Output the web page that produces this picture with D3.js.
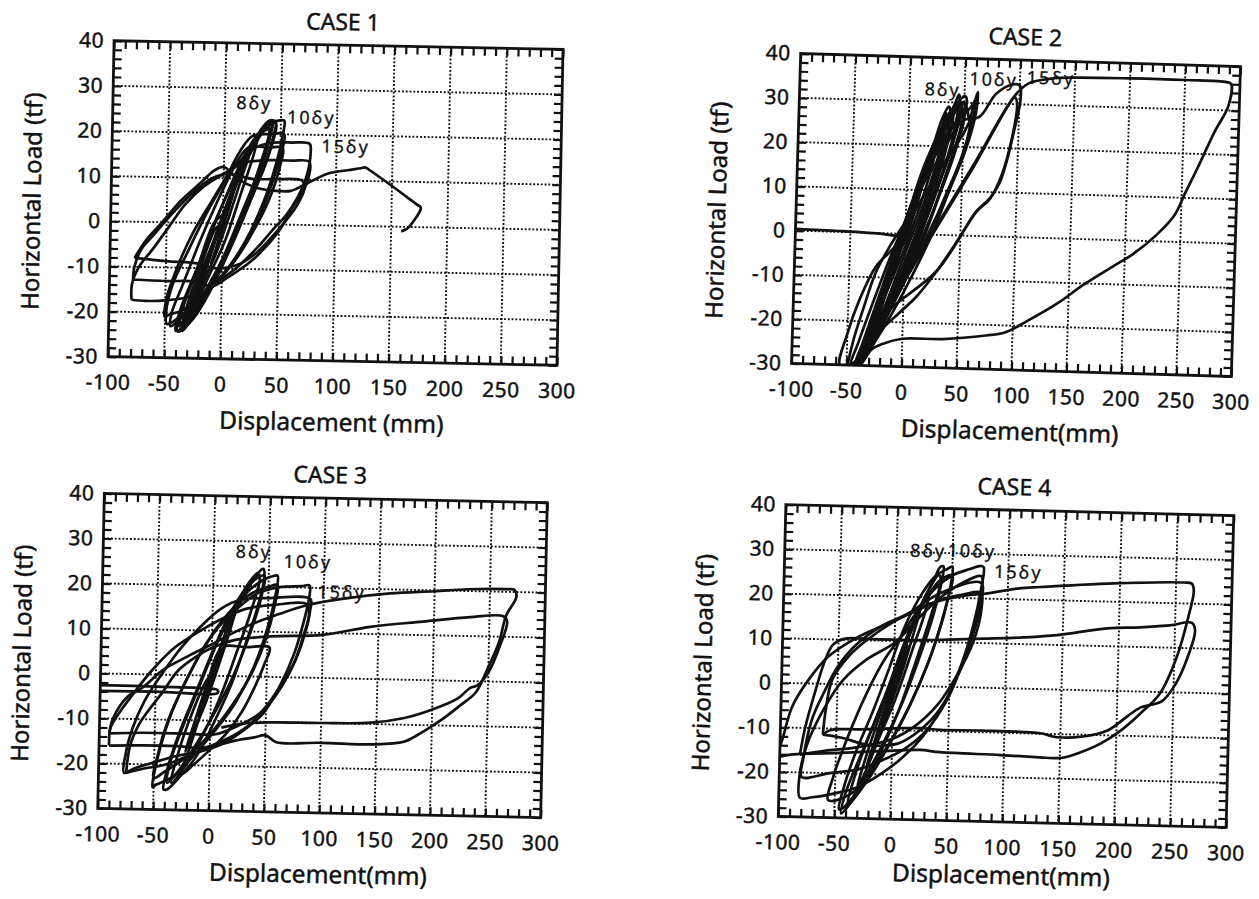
<!DOCTYPE html>
<html>
<head>
<meta charset="utf-8">
<script src="https://cdn.jsdelivr.net/npm/d3@7"></script>
<style>
  body { margin: 0; background: #fff; }
  text { font-family: "Noto Sans", "DejaVu Sans", sans-serif; fill: #111; stroke: #111; stroke-width: 0.45px; }
</style>
</head>
<body>
<svg id="chart" width="1259" height="899"></svg>
<script>
// ---- tick labels ----
const xTickLabels = [-100, -50, 0, 50, 100, 150, 200, 250, 300];
const yTickLabels = [-30, -20, -10, 0, 10, 20, 30, 40];

// ---- hysteresis cycles, [displacement mm, load tf] ----
const case1Cycles = [
  [[0,0],[5,4],[10,8],[7,5],[0,-1],[-6,-6],[-10,-9],[-5,-5],[0,0]],
  [[0,0],[10,8],[18,13],[22,15],[17,11],[6,2],[-6,-7],[-16,-13],[-22,-17],[-15,-11],[-4,-2],[2,3]],
  [[2,3],[14,11],[25,17],[30,20],[27,16],[16,7],[2,-4],[-12,-12],[-24,-19],[-30,-22],[-24,-17],[-12,-7],[0,2]],
  [[0,0],[10,8],[20,14],[30,19],[38,22],[40,21],[32,13],[20,4],[6,-6],[-10,-15],[-24,-21],[-32,-23],[-26,-17],[-14,-8],[0,0]],
  [[2,2],[14,11],[26,18],[36,22],[42,23],[40,19],[30,10],[16,0],[0,-9],[-16,-17],[-28,-22],[-34,-24],[-28,-18],[-14,-8],[2,2]],
  [[0,2],[10,9],[20,15],[32,20],[44,23],[46,22],[38,14],[24,5],[8,-5],[-10,-14],[-26,-21],[-40,-24],[-36,-19],[-22,-10],[-8,0],[0,2]],
  [[0,0],[12,9],[24,16],[36,21],[45,22.5],[42,18],[30,9],[14,-1],[-4,-11],[-20,-18],[-34,-23],[-30,-18],[-18,-9],[-6,-1],[0,0]],
  [[0,2],[12,10],[24,17],[34,21.5],[40,23],[43,23],[40,19],[30,11],[16,2],[0,-8],[-16,-16],[-30,-22],[-36,-24],[-39,-24],[-36,-20],[-25,-12],[-10,-2],[4,7]],
  [[4,7],[16,14],[28,19],[38,21],[41,21],[37,16],[26,8],[10,-3],[-8,-12],[-24,-19],[-34,-22],[-37,-23],[-33,-18],[-20,-9],[-6,1],[8,9]],
  [[8,9],[20,16],[30,20],[42,22.5],[48,23],[53,23],[52,20],[46,13],[36,5],[20,-4],[2,-11],[-18,-16],[-35,-19.5],[-47,-20.5],[-50,-21],[-49,-17],[-40,-10],[-26,-2],[-10,5],[4,11]],
  [[4,11],[14,16],[25,19.5],[40,20],[53,20],[51,16],[43,9],[30,0],[12,-8],[-8,-14],[-28,-19],[-48,-22.5],[-49,-20],[-44,-14],[-30,-6],[-15,2],[0,9]],
  [[0,9],[12,14],[22,17],[40,17],[52,17],[50,13],[40,5],[24,-3],[5,-10],[-15,-16],[-35,-21],[-45,-23],[-44,-20],[-35,-14],[-20,-4],[-5,5],[8,12]],
  [[8,12],[25,16.5],[40,18],[60,18.2],[76,18],[77,16],[74,11],[66,6],[56,2],[47,-0.5],[30,-5.5],[12,-10],[-4,-13],[-12,-15],[-30,-16.5],[-50,-17.3],[-68,-17.5],[-80,-17.3]],
  [[-80,-17.3],[-80,-14],[-74,-10],[-62,-6],[-48,-1],[-34,4],[-18,8],[0,11],[18,13.5],[41,14.2],[60,14.2],[76,14],[76,11],[70,7],[62,4],[50,-1.5],[27,-8],[5,-12],[-9,-14],[-23,-13],[-50,-13],[-79,-12.8]],
  [[-79,-12.8],[-78,-10],[-72,-6],[-62,-3],[-45,2],[-30,6],[-10,10],[5,11],[25,10],[45,10],[70,9.8],[72,8],[65,4],[50,-1],[32,-6],[15,-9],[-5,-10],[-21,-9],[-50,-8.6],[-78,-8]],
  [[-78,-8],[-68,-4],[-54,0],[-38,4.8],[-20,9],[-9,11.6],[0,12.5],[12,10],[30,8],[50,7.4],[60,7.5],[72,8.9],[93,11.5],[110,12.3],[122,12.8],[126,13],[130,12.4],[150,9],[172,5.1],[176,4.4],[175,3.4],[165,-0.2],[162,-0.7],[159,-1]]
];

const case2Cycles = [
  [[-100,0.4],[-60,0.2],[-20,-0.2],[-5,-0.6]],
  [[-5,-0.6],[3,3],[10,8],[14,11],[10,7],[2,0],[-6,-5],[-12,-9],[-7,-5],[0,0]],
  [[0,0],[10,8],[20,15],[26,20],[22,15],[12,6],[0,-3],[-12,-11],[-22,-17],[-26,-20],[-18,-13],[-6,-3],[2,3]],
  [[0,0],[6,6],[14,13],[22,19],[30,24],[38,28],[40,26],[32,18],[20,8],[8,-1],[-4,-9],[-16,-17],[-26,-23],[-20,-17],[-10,-9],[0,0]],
  [[0,0],[8,7],[18,15],[28,21],[38,26],[44,29],[42,24],[32,14],[18,4],[4,-6],[-10,-15],[-22,-22],[-30,-26],[-24,-19],[-12,-10],[0,0]],
  [[-2,-2],[6,5],[14,12],[24,19],[34,25],[40,27],[36,21],[26,11],[12,1],[0,-8],[-14,-17],[-24,-23],[-18,-15],[-8,-7],[-2,-2]],
  [[2,2],[12,11],[22,18],[32,24],[42,29],[50,30],[48,25],[38,16],[24,5],[10,-4],[-4,-12],[-18,-20],[-28,-25],[-20,-16],[-8,-6],[2,2]],
  [[0,0],[8,8],[16,15],[24,21],[30,26],[36,29],[38,27],[30,18],[20,9],[8,-1],[-6,-11],[-20,-20],[-32,-27],[-38,-30],[-30,-22],[-18,-12],[-6,-3],[0,0]],
  [[0,0],[10,9],[20,17],[30,23],[40,27],[48,30],[46,26],[36,17],[22,6],[6,-5],[-10,-15],[-24,-23],[-34,-28],[-28,-21],[-16,-11],[-4,-2],[0,0]],
  [[2,3],[12,11],[22,18],[30,24],[34,27.5],[33,24],[25,15],[12,4],[-2,-6],[-16,-16],[-28,-24],[-36,-28],[-30,-22],[-18,-12],[-5,-1],[5,7]],
  [[5,7],[15,15],[25,21],[35,26],[42,30],[45,31.8],[46,28],[40,20],[30,12],[18,3],[3,-8],[-12,-17],[-26,-25],[-38,-30],[-42,-30],[-36,-25],[-22,-14],[-8,-3],[6,8]],
  [[6,8],[16,16],[28,23],[40,28.5],[50,31.5],[52,31],[50,26],[42,18],[30,9],[15,-2],[0,-11],[-15,-19],[-28,-26],[-36,-29],[-32,-24],[-20,-14],[-6,-3],[8,7]],
  [[8,7],[20,16],[32,22],[44,26],[52,29],[55,26],[58,29],[62,32.5],[61,28],[52,19],[40,11],[24,0],[8,-9],[-10,-18],[-26,-25],[-40,-30],[-46,-30],[-40,-25],[-28,-16],[-14,-6],[0,3]],
  [[0,3],[15,13],[30,20],[45,26],[56,29],[60,30.5],[58,26],[48,17],[34,8],[18,-2],[0,-11],[-18,-20],[-34,-27],[-44,-29.5],[-48,-30],[-45,-25],[-36,-17],[-26,-9],[-14,-3],[-2,2]],
  [[-2,2],[12,10],[28,17],[48.8,25.9],[64,26.9],[79,32.3],[94.5,34.5],[100,34.3],[101,31],[96,24],[90,17],[84,12],[76,8.7],[64,5.6],[48,-1],[30,-8],[12,-14],[-4,-18],[-20,-22],[-34,-27],[-46,-30],[-56,-30],[-50,-22.9],[-40,-15.2],[-26,-7.6],[-9,-2.9],[2,2]],
  [[2,2],[14,8],[28,14],[40,19],[50,23],[56,26],[52,20],[40,11],[24,2],[6,-8],[-8,-15],[-22,-21],[-30,-25],[-22,-21],[-15,-17.6],[20,-2],[60,15.5],[96,31.5],[98,30],[94,22],[86,14],[76,8.5],[64,5.5],[30,-8],[-15,-18],[-30,-25],[-42,-30]],
  [[-42,-30],[-30,-23],[-15,-17],[20,-1.5],[60,16],[96,32],[108,34.8],[128,36],[150,36.4],[200,36.6],[250,36.6],[288,36.4],[292,36],[290,31],[278,25],[264,17],[253,11],[244,6],[228,1.4],[206,-3.3],[191,-5.7],[162,-10.5],[141,-14.5],[112,-19],[93,-21.6],[76,-22.4],[37,-23.5],[0,-23.7],[-18,-25],[-27,-26.2],[-36,-29],[-40,-30]]
];

const case3Cycles = [
  [[-100,-2.6],[-50,-2.7],[0,-2.9],[6,-3.2],[6,-3.8],[-50,-3.8],[-100,-3.9]],
  [[0,0],[6,5],[12,9],[8,5],[0,-1],[-6,-6],[-11,-9],[-5,-4],[0,0]],
  [[0,0],[10,8],[18,14],[22,16],[17,11],[6,2],[-6,-7],[-16,-13],[-22,-17],[-15,-11],[-4,-2],[2,3]],
  [[0,0],[10,8],[20,15],[30,20],[40,23],[42,22],[34,14],[22,5],[8,-5],[-8,-14],[-24,-21],[-34,-24],[-28,-17],[-16,-8],[-4,-1],[0,0]],
  [[2,3],[10,6.5],[30,6.5],[52,6.5],[48,3],[40,-2],[28,-8],[14,-13],[-2,-17],[-15,-20],[-25,-22],[-18,-16],[-6,-6],[4,3]],
  [[4,3],[15,11],[26,17],[35,21],[42,23.5],[45,24],[46,22],[40,15],[30,7],[18,-2],[4,-10],[-12,-18],[-28,-23],[-38,-25.5],[-41,-25.5],[-38,-21],[-28,-13],[-14,-4],[0,5]],
  [[0,5],[14,13],[28,19],[40,22],[46,22.5],[43,17],[32,8],[18,-1],[2,-9],[-14,-16],[-30,-22],[-38,-24],[-35,-19],[-24,-11],[-10,-2],[4,7]],
  [[4,7],[18,14],[30,18.5],[45,21.5],[55,22.5],[58,22.5],[57,19],[50,11],[38,2],[22,-6],[5,-12],[-15,-18],[-32,-22.5],[-48,-24.5],[-51,-25],[-49,-21],[-40,-12],[-28,-4],[-12,4],[2,10]],
  [[2,10],[18,15],[35,18.5],[50,20],[58,20.5],[56,16],[48,8],[35,0],[18,-7],[0,-13],[-20,-18],[-40,-21.5],[-50,-23],[-47,-18],[-38,-10],[-24,-2],[-8,6],[6,11]],
  [[6,11],[22,15],[40,18.5],[60,20],[80,20.3],[87,20.5],[87,18],[82,12],[74,5],[62,-2],[48,-8],[30,-12],[12,-15],[-10,-17],[-30,-18],[-50,-19.5],[-68,-21],[-77,-22],[-76,-18],[-70,-12],[-60,-6],[-45,0],[-28,6],[-10,11],[8,15],[25,17],[50,17.5],[88,17.5],[88,15],[84,10],[76,4],[64,-2],[50,-7],[34,-11],[15,-14],[-5,-16],[-30,-15.8],[-60,-15.8],[-91,-16]],
  [[-91,-16],[-90,-12],[-84,-9.3],[-69,-4],[-53,1.1],[-33,6.2],[-9,10.2],[11,13],[30,15],[55,16],[85,16.3],[87,14],[82,9],[74,3],[60,-3],[45,-8],[25,-11],[5,-13],[-20,-13],[-60,-13],[-91,-13.3]],
  [[-91,-13.3],[-88,-10],[-75,-5],[-62,-3],[-44,1],[-23,4],[0,7],[30,11],[60,14],[86.5,16.2],[120,17.8],[160,19.1],[200,19.8],[230,20.4],[265,20.6],[272,20.5],[274,19],[265,14.7],[259,8.7],[249,2.7],[239,-2.5],[225,-5.5],[211,-8.3],[197,-10.7],[184,-12.7],[175,-13.8],[150,-14.5],[100,-14.4],[60,-14.5],[50,-13],[40,-13.5],[20,-14.5],[0,-16],[-20,-18],[-40,-20],[-60,-21],[-75,-22]],
  [[-75,-22],[-72,-16],[-64,-11],[-56,-8],[-44,-4],[-30,1],[-15,4],[1,6.3],[20,8],[52.6,9],[100,9.6],[142.6,11.6],[190,13],[232.6,14.2],[262,14.6],[266,13.5],[260,8],[250,2],[240,-1],[234,-1.5],[223,-3.9],[199,-6.6],[175,-8.5],[145,-9.7],[100,-10],[55,-10.1],[30,-10.5],[10,-11.5]]
];

const case4Cycles = [
  [[0,0],[6,5],[12,9],[8,5],[0,-1],[-6,-6],[-11,-9],[-5,-4],[0,0]],
  [[0,0],[10,9],[18,15],[22,17],[17,12],[6,2],[-6,-7],[-16,-14],[-22,-18],[-15,-12],[-4,-2],[2,3]],
  [[0,0],[10,9],[20,16],[30,22],[38,25],[40,24],[32,16],[20,6],[6,-5],[-10,-15],[-26,-23],[-38,-27],[-32,-20],[-20,-11],[-6,-2],[0,0]],
  [[2,3],[14,12],[24,18],[30,21],[27,17],[16,8],[2,-3],[-12,-12],[-24,-20],[-30,-23],[-24,-17],[-12,-7],[0,3]],
  [[0,3],[14,13],[26,20],[34,24],[39,26.8],[42,27],[41,24],[34,16],[22,6],[8,-4],[-8,-13],[-24,-21],[-36,-26],[-44,-28],[-46,-28],[-42,-23],[-32,-15],[-18,-6],[-4,4]],
  [[-4,4],[10,14],[24,21],[36,25],[46,26.5],[50,27],[49,23],[42,15],[30,5],[14,-5],[-4,-14],[-20,-21],[-34,-26],[-44,-29],[-40,-24],[-28,-16],[-14,-7],[0,3]],
  [[0,3],[14,13],[28,20],[40,24],[50,25],[47,20],[38,11],[24,1],[6,-9],[-12,-17],[-28,-23],[-48,-26],[-56,-26],[-52,-21],[-40,-12],[-24,-2],[-8,6],[6,11]],
  [[6,11],[20,17],[35,22],[50,25],[65,26.5],[76,27.3],[78,27],[76,22],[70,14],[60,5],[45,-4],[28,-11],[10,-16],[-10,-20],[-30,-23],[-50,-24.5],[-70,-25.5],[-81,-25.7],[-82,-21],[-76.5,-14.2],[-62,-5.8],[-45,1],[-25,5.6],[0,9.6],[20,15],[40,20],[60,23.5],[76,25],[77,22],[72,15],[62,6],[48,-3],[30,-10],[12,-14],[-10,-17],[-30,-19],[-55,-20],[-80,-21],[-79,-17],[-72,-8],[-62,-2],[-50,4],[-34,9],[-13,13.1],[10,16],[40,21],[76,23.5],[77,20],[70,12],[58,3],[42,-5],[24,-10],[5,-13],[-20,-13.5],[-45,-12],[-62,-11.4]],
  [[-62,-11.4],[-60,-6],[-54.8,1],[-41,6.2],[-25,10],[0,14.5],[30,18.5],[60,20.5],[82.4,21.2],[110,22.5],[128.7,22.9],[200,24.2],[257,24.7],[264,24.5],[266,23],[261.5,16.8],[252,7.8],[238,-0.3],[221,-4.9],[204,-8.8],[186,-11.9],[168,-14],[154,-15.2],[147,-15.4],[132,-15.3],[97,-15],[43,-14.7],[25,-14.3],[-10,-14.8],[-46,-15.4],[-88.8,-16],[-100,-16.6],[-104,-17]],
  [[-104,-17],[-101,-15],[-98,-12.7],[-90,-5.3],[-76,0.8],[-59,6.1],[-34,10.5],[-13,13.1],[15,16.4],[40,19.5],[60,20.8],[76,21.3],[77,18],[70,10],[55,2],[40,-4],[20,-9],[0,-12],[-30,-14],[-60,-15],[-82,-16]],
  [[-82,-16],[-78,-10],[-70,-2],[-62,5],[-55,8.8],[-45,10.2],[-20,10.3],[20,10.3],[40.6,10.5],[80,11],[114.6,11.5],[145,12.2],[189.5,14],[219,14.4],[245,15],[265,15.7],[268,14],[262,8],[252,2],[240,-2],[220.8,-3.6],[210,-5.5],[192,-8.9],[170,-10.4],[147,-10.7],[132,-9.9],[80,-9.6],[42.7,-9.7],[24.8,-9.4],[0,-9.6],[-30,-10],[-55,-10.3],[-62,-11.4]]
];

// amplitude labels (data position of text baseline centre)
const case1Notes = [{ t: '8δy', x: 26, y: 25.4 }, { t: '10δy', x: 77, y: 22.4 }, { t: '15δy', x: 108, y: 16.1 }];
const case2Notes = [{ t: '8δy', x: 30, y: 31.4 }, { t: '10δy', x: 76, y: 34 }, { t: '15δy', x: 128, y: 34.7 }];
const case3Notes = [{ t: '8δy', x: 36, y: 26.3 }, { t: '10δy', x: 85, y: 24.3 }, { t: '15δy', x: 116, y: 17.7 }];
const case4Notes = [{ t: '8δy', x: 28, y: 29 }, { t: '10δy', x: 67, y: 29.2 }, { t: '15δy', x: 109, y: 24.7 }];

// ---- layout of the four panels (the scan is slightly rotated) ----
const panels = [
  { title: 'CASE 1', xTitle: 'Displacement (mm)', cycles: case1Cycles, notes: case1Notes, left: 111, top: 45, width: 449, height: 316, angle: 1.1, xTitleGap: 70 },
  { title: 'CASE 2', xTitle: 'Displacement(mm)', cycles: case2Cycles, notes: case2Notes, left: 796, top: 60, width: 440, height: 310, angle: 1.7, xTitleGap: 70 },
  { title: 'CASE 3', xTitle: 'Displacement(mm)', cycles: case3Cycles, notes: case3Notes, left: 101, top: 498, width: 443, height: 315, angle: 1.2, xTitleGap: 70 },
  { title: 'CASE 4', xTitle: 'Displacement(mm)', cycles: case4Cycles, notes: case4Notes, left: 782, top: 510, width: 448, height: 312, angle: 1.4, xTitleGap: 62 }
];

const svg = d3.select('#chart');
const fmt = d => (d < 0 ? '-' + Math.abs(d) : String(d));

panels.forEach((p, i) => drawPanel(p, i));

function drawPanel(p, i) {
  const x = d3.scaleLinear().domain([-100, 300]).range([0, p.width]);
  const y = d3.scaleLinear().domain([-30, 40]).range([p.height, 0]);
  const cx = p.left + p.width / 2, cy = p.top + p.height / 2;

  const g = svg.append('g')
    .attr('transform', `rotate(${p.angle},${cx},${cy}) translate(${p.left},${p.top})`);

  g.append('clipPath').attr('id', 'clip' + i)
    .append('rect').attr('width', p.width).attr('height', p.height);

  // dotted grid
  const grid = g.append('g').attr('stroke', '#111').attr('stroke-width', 1.9)
    .attr('stroke-dasharray', '1.9,1.9');
  grid.selectAll('.vg').data(xTickLabels.slice(1, -1)).join('line')
    .attr('x1', d => x(d)).attr('x2', d => x(d)).attr('y1', 0).attr('y2', p.height);
  grid.selectAll('.hg').data(yTickLabels.slice(1, -1)).join('line')
    .attr('y1', d => y(d)).attr('y2', d => y(d)).attr('x1', 0).attr('x2', p.width);

  // inward minor ticks on all four sides
  const minorX = d3.range(-100, 301, 10), minorY = d3.range(-30, 41, 2);
  const tickG = [
    g.append('g').attr('transform', `translate(0,${p.height})`).call(d3.axisBottom(x).tickValues(minorX).tickSize(-8).tickFormat('')),
    g.append('g').call(d3.axisTop(x).tickValues(minorX).tickSize(-8).tickFormat('')),
    g.append('g').call(d3.axisLeft(y).tickValues(minorY).tickSize(-8).tickFormat('')),
    g.append('g').attr('transform', `translate(${p.width},0)`).call(d3.axisRight(y).tickValues(minorY).tickSize(-8).tickFormat(''))
  ];
  tickG.forEach(a => {
    a.select('.domain').remove();
    a.selectAll('line').attr('stroke', '#111').attr('stroke-width', 2.2);
  });

  // frame
  g.append('rect').attr('width', p.width).attr('height', p.height)
    .attr('fill', 'none').attr('stroke', '#111').attr('stroke-width', 2.8);

  // tick labels
  const xl = g.append('g').attr('transform', `translate(0,${p.height})`)
    .call(d3.axisBottom(x).tickValues(xTickLabels).tickSize(0).tickPadding(18).tickFormat(fmt));
  const yl = g.append('g')
    .call(d3.axisLeft(y).tickValues(yTickLabels).tickSize(0).tickPadding(10).tickFormat(fmt));
  [xl, yl].forEach(a => {
    a.select('.domain').remove();
    a.selectAll('text').style('font-size', '21px').style('letter-spacing', '0.5px')
      .style('font-family', '"Noto Sans", sans-serif').attr('fill', '#111');
  });

  // hysteresis curves
  const line = d3.line().x(d => x(d[0])).y(d => y(d[1]))
    .curve(d3.curveCatmullRom.alpha(0.5));
  g.append('g').attr('clip-path', `url(#clip${i})`)
    .selectAll('path').data(p.cycles).join('path')
    .attr('d', line).attr('fill', 'none').attr('stroke', '#111')
    .attr('stroke-width', 2.7).attr('stroke-linejoin', 'round');

  // amplitude labels
  g.selectAll('.note').data(p.notes).join('text')
    .attr('x', d => x(d.x)).attr('y', d => y(d.y))
    .attr('text-anchor', 'middle').style('font-size', '18px').style('letter-spacing', '2px')
    .style('stroke-width', '0.3px')
    .text(d => d.t);

  // titles
  g.append('text').attr('x', p.width / 2 + 4).attr('y', -15)
    .attr('text-anchor', 'middle').style('font-size', '23px').text(p.title);
  g.append('text').attr('x', p.width / 2).attr('y', p.height + p.xTitleGap)
    .attr('text-anchor', 'middle').style('font-size', '24.5px').text(p.xTitle);
  g.append('text')
    .attr('transform', `translate(-79,${p.height / 2 + 4}) rotate(-90)`)
    .attr('text-anchor', 'middle').attr('dy', '0.35em')
    .style('font-size', '24px').text('Horizontal Load (tf)');
}
</script>
</body>
</html>
